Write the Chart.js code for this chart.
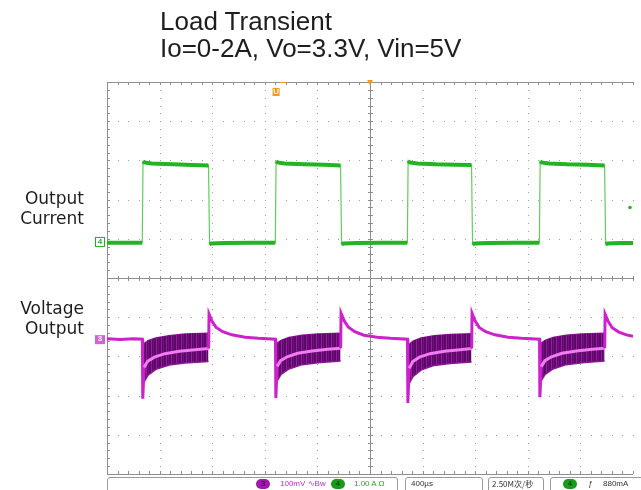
<!DOCTYPE html>
<html>
<head>
<meta charset="utf-8">
<script src="https://cdn.jsdelivr.net/npm/chart.js@4.4.0/dist/chart.umd.min.js"></script>
<style>
body{margin:0;background:#fff;}
#wrap{position:relative;width:641px;height:490px;overflow:hidden;background:#fff;}
#scope{position:absolute;left:0;top:0;}
.title{position:absolute;left:160px;top:8px;font:26px/27px "Liberation Sans",Arial,sans-serif;color:#1e1e1e;white-space:nowrap;}
.side{position:absolute;right:557px;font:17px/20px "DejaVu Sans",sans-serif;color:#1e1e1e;text-align:right;white-space:nowrap;}
.box{position:absolute;top:477px;height:14px;border:1px solid #9a9a9a;border-radius:3px;font:8px/12px "Liberation Sans",Arial,sans-serif;color:#333;white-space:nowrap;}
.box span{position:absolute;top:0;}
.dot{display:inline-block;width:14px;height:10px;border-radius:5px;text-align:center;font-size:8px;line-height:10px;top:1px !important;}
</style>
</head>
<body>
<div id="wrap">
  <canvas id="scope" width="641" height="490"></canvas>
  <div class="title">Load Transient<br>Io=0-2A, Vo=3.3V, Vin=5V</div>
  <div class="side" style="top:188px">Output<br>Current</div>
  <div class="side" style="top:298px">Voltage<br>Output</div>
  <div class="box" style="left:107px;width:289px">
    <span class="dot" style="left:148px;background:#a01aa8;color:#400040">3</span>
    <span style="left:172px;color:#c02cc8">100mV ∿Bw</span>
    <span class="dot" style="left:223px;background:#1a9a1a;color:#003300">4</span>
    <span style="left:246px;color:#22aa22">1.00 A Ω</span>
  </div>
  <div class="box" style="left:405px;width:76px"><span style="left:5px">400µs</span></div>
  <div class="box" style="left:488px;width:54px"><span style="left:3px;font-family:'Noto Sans CJK SC',sans-serif">2.50M次/秒</span></div>
  <div class="box" style="left:550px;width:100px">
    <span class="dot" style="left:12px;background:#1a9a1a;color:#003300">4</span>
    <span style="left:37px;font-style:italic">ƒ</span>
    <span style="left:52px">880mA</span>
  </div>
</div>
<script>
// time in µs (400 µs/div, trigger at centre), current in A, output voltage deviation in mV
const loadOn = [-1728, -716, 288, 1292];
const loadOff = [-1224, -220, 776, 1788];

const currentTime = [-2000, -1732,
  -1726, -1716, -1660, -1500, -1350, -1228, -1220, -1206, -1100, -900, -720,
  -714, -704, -650, -500, -350, -224, -216, -202, -100, 100, 284,
  290, 300, 360, 500, 650, 772, 780, 794, 900, 1100, 1288,
  1294, 1304, 1360, 1500, 1650, 1784, 1792, 1806, 1900, 2000];
const currentAmp = [-0.02, -0.02,
  2.06, 2.03, 2.0, 1.98, 1.96, 1.95, -0.06, -0.04, -0.03, -0.02, -0.02,
  2.06, 2.03, 2.0, 1.98, 1.97, 1.95, -0.06, -0.04, -0.03, -0.02, -0.02,
  2.07, 2.03, 2.0, 1.98, 1.97, 1.96, -0.06, -0.04, -0.03, -0.02, -0.02,
  2.06, 2.03, 2.0, 1.98, 1.97, 1.95, -0.06, -0.04, -0.03, -0.03];

const voltTime = [-2000, -1900, -1800, -1731,
  -1728, -1718, -1690, -1640, -1560, -1450, -1330, -1227, -1224, -1200, -1170, -1120, -1050, -950, -850, -719,
  -716, -706, -680, -630, -550, -440, -320, -223, -220, -196, -166, -116, -46, 54, 154, 285,
  288, 298, 326, 376, 456, 566, 686, 773, 776, 800, 830, 880, 950, 1050, 1150, 1289,
  1292, 1302, 1330, 1380, 1460, 1570, 1690, 1785, 1788, 1812, 1842, 1892, 1950, 2000];
const voltMilli = [1, -1, 1, 0,
  -152, -72, -56, -46, -37, -31, -27, -24, 64, 45, 30, 19, 11, 5, 2, 0,
  -150, -70, -55, -45, -36, -30, -26, -23, 66, 47, 31, 19, 10, 5, 2, 0,
  -163, -74, -57, -46, -37, -31, -27, -24, 66, 46, 30, 19, 11, 5, 2, 0,
  -148, -70, -55, -45, -36, -30, -26, -23, 64, 45, 29, 18, 11, 7];

// ripple envelope while loaded
const bandTime = [-1720, -1688, -1628, -1528, -1408, -1228, -1226,
  -708, -676, -616, -516, -396, -224, -222,
  296, 328, 388, 488, 608, 772, 774,
  1300, 1332, 1392, 1492, 1612, 1784];
const bandHigh = [-12, -4, 3, 9, 13, 15, null,
  -11, -3, 4, 10, 13, 15, null,
  -14, -5, 3, 9, 12, 14, null,
  -11, -3, 4, 10, 13, 15];
const bandLow = [-110, -92, -77, -66, -61, -57, null,
  -108, -90, -76, -65, -60, -56, null,
  -114, -95, -79, -67, -62, -58, null,
  -107, -90, -76, -65, -60, -56];

const pts = (xs, ys) => xs.map((t, i) => ({x: t, y: ys[i]}));

function ripplePattern() {
  const c = document.createElement('canvas');
  c.width = 5; c.height = 2;
  const g = c.getContext('2d');
  g.fillStyle = '#5a0a66'; g.fillRect(0, 0, 5, 2);
  g.fillStyle = '#9a1aa6'; g.fillRect(1, 0, 1, 2);
  g.fillStyle = '#74107e'; g.fillRect(3, 0, 1, 2);
  return g.createPattern(c, 'repeat');
}

const inLoad = t => loadOn.some((on, i) => t > on + 4 && t < loadOff[i] - 1);

const scopeGrid = {
  id: 'scopeGrid',
  beforeDatasetsDraw(chart) {
    const {ctx, chartArea: a, scales: {x, yI}} = chart;
    const xs = [], ys = [];
    for (let k = 0; k <= 50; k++) xs.push(Math.round(x.getPixelForValue(-2000 + k * 80)));
    for (let k = 0; k <= 50; k++) ys.push(Math.round(yI.getPixelForValue(yI.max - k * 0.2)));
    ctx.save();
    ctx.fillStyle = '#9c9c9c';
    for (let j = 1; j < 10; j++) {
      if (j === 5) continue;
      xs.forEach(px => ctx.fillRect(px, ys[j * 5], 1, 1));
      ys.forEach(py => ctx.fillRect(xs[j * 5], py, 1, 1));
    }
    ctx.fillStyle = '#8e8e8e';
    // frame
    ctx.fillRect(a.left, a.top, a.right - a.left, 1);
    ctx.fillRect(a.left, a.bottom, a.right - a.left, 1);
    ctx.fillRect(a.left, a.top, 1, a.bottom - a.top);
    // centre cross
    ctx.fillRect(a.left, ys[25], a.right - a.left, 1);
    ctx.fillRect(xs[25], a.top, 1, a.bottom - a.top);
    xs.forEach(px => {
      ctx.fillRect(px, a.top, 1, 3);
      ctx.fillRect(px, a.bottom - 3, 1, 3);
      ctx.fillRect(px, ys[25] - 2, 1, 5);
    });
    ys.forEach(py => {
      ctx.fillRect(a.left, py, 3, 1);
      ctx.fillRect(xs[25] - 2, py, 5, 1);
    });
    ctx.restore();
  },
  afterDatasetsDraw(chart) {
    const {ctx, scales: {x, yI, yV}} = chart;
    ctx.save();
    ctx.font = 'bold 8px "Liberation Sans", Arial, sans-serif';
    ctx.textAlign = 'center';
    ctx.textBaseline = 'middle';
    // channel 4 ground marker
    let y = yI.getPixelForValue(0);
    ctx.strokeStyle = '#2aa82a';
    ctx.lineWidth = 1;
    ctx.strokeRect(95.5, y - 4.5, 9, 9);
    ctx.fillStyle = '#2aa82a';
    ctx.fillText('4', 100, y);
    // channel 3 ground marker
    y = yV.getPixelForValue(0);
    ctx.fillStyle = '#d660d6';
    ctx.fillRect(95, y - 4, 10, 9);
    ctx.fillStyle = '#ffffff';
    ctx.fillText('3', 100, y);
    // trigger position
    const cx = x.getPixelForValue(0);
    ctx.fillStyle = '#f39a1c';
    ctx.beginPath();
    ctx.moveTo(cx - 3, 80); ctx.lineTo(cx + 3, 80); ctx.lineTo(cx, 85); ctx.closePath();
    ctx.fill();
    ctx.fillRect(x.getPixelForValue(-660) - 3, 82, 6, 1);
    const ux = x.getPixelForValue(-718);
    ctx.fillRect(ux - 3, 88, 7, 8);
    ctx.fillStyle = '#fff6e0';
    ctx.fillText('U', ux + 0.5, 92);
    // trigger level
    ctx.fillStyle = '#22b422';
    ctx.beginPath();
    ctx.arc(630, yI.getPixelForValue(0.88), 1.8, 0, Math.PI * 2);
    ctx.fill();
    ctx.restore();
  }
};

const big = v => Math.abs(v) > 0.5;

new Chart(document.getElementById('scope').getContext('2d'), {
  type: 'line',
  data: {
    datasets: [
      {
        data: pts(currentTime, currentAmp), yAxisID: 'yI', order: 1,
        borderColor: '#22b422', borderWidth: 4, pointRadius: 0,
        segment: {borderColor: c => big(c.p1.parsed.y - c.p0.parsed.y) ? 'rgba(0,0,0,0)' : '#22b422'}
      },
      {
        data: pts(currentTime, currentAmp), yAxisID: 'yI', order: 2,
        borderColor: '#62cc62', borderWidth: 1.2, pointRadius: 0
      },
      {
        data: pts(voltTime, voltMilli), yAxisID: 'yV', order: 3,
        borderColor: '#cc22cc', borderWidth: 3, pointRadius: 0,
        segment: {
          borderColor: c => inLoad(c.p0.parsed.x) && inLoad(c.p1.parsed.x) ? '#f27cf2' : '#cc22cc'
        }
      },
      {
        data: pts(bandTime, bandLow), yAxisID: 'yV', order: 4,
        borderColor: '#8c1496', borderWidth: 1.5, pointRadius: 0,
        fill: {target: 4}, backgroundColor: ripplePattern(), spanGaps: false
      },
      {
        data: pts(bandTime, bandHigh), yAxisID: 'yV', order: 5,
        borderColor: '#8c1496', borderWidth: 1.5, pointRadius: 0, spanGaps: false
      }
    ]
  },
  options: {
    responsive: false,
    animation: false,
    devicePixelRatio: 1,
    layout: {padding: {left: 107, top: 82, right: 8, bottom: 16}},
    scales: {
      x: {type: 'linear', min: -2000, max: 2000, display: false},
      yI: {type: 'linear', min: -5.92, max: 4.08, display: false},
      yV: {type: 'linear', min: -344, max: 656, display: false}
    },
    plugins: {legend: {display: false}, tooltip: {enabled: false}}
  },
  plugins: [scopeGrid]
});
</script>
</body>
</html>
